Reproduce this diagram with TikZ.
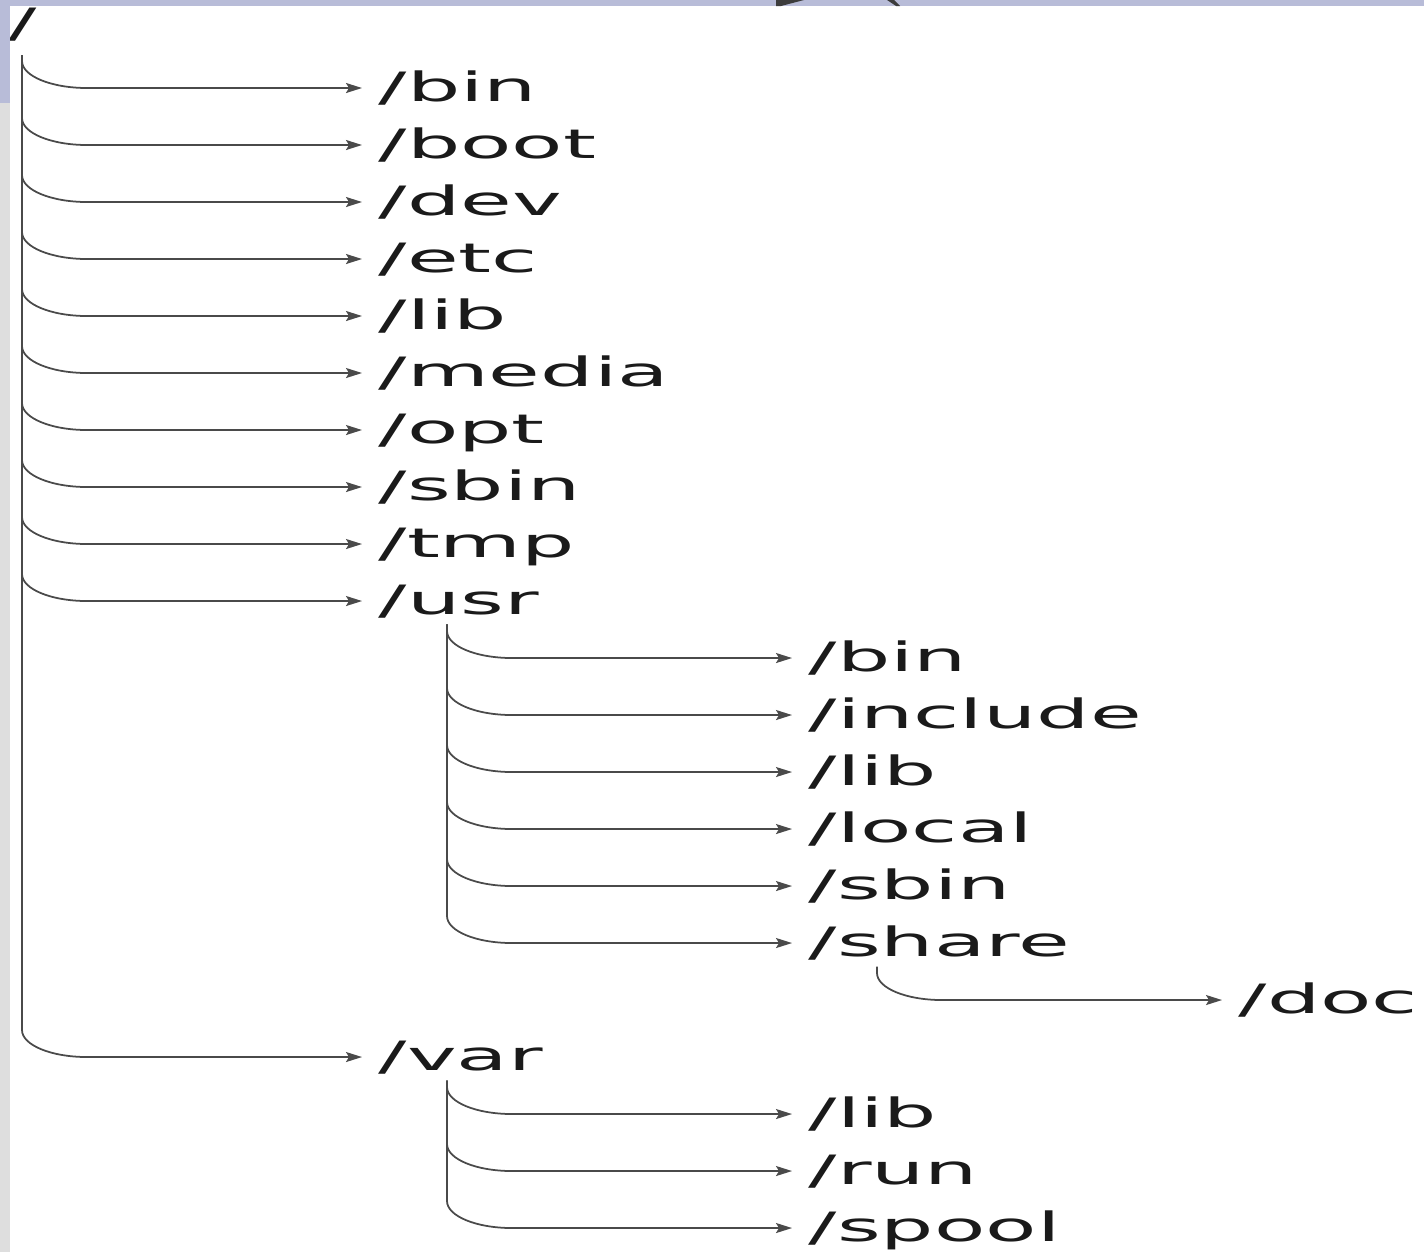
\documentclass[tikz,border=0pt]{standalone}
\usepackage{fontspec}
\newfontfamily\treefont{DejaVu Sans}[FakeStretch=2.08]
\usetikzlibrary{calc, positioning, arrows.meta}
\definecolor{bandblue}{HTML}{B8BCD8}
\definecolor{stripgray}{HTML}{DEDEDE}
\definecolor{linegray}{HTML}{4A4A4A}
\definecolor{inkdark}{HTML}{1A1A1A}

\begin{document}
\begin{tikzpicture}[dir/.style={font=\treefont\fontsize{11.5}{13}\selectfont, text=inkdark, inner xsep=0.16cm, inner ysep=0.04cm, text height=0.32cm, text depth=0.06cm},
			sib/.style={below=0.57cm of #1.west, anchor=west},
			sub/.style={below right=0.57cm and 4.30cm of #1.west, anchor=west},
			link/.style={draw=linegray, line width=0.5pt, -{Stealth[length=1.6mm,width=1.0mm,inset=0.3mm]},
				to path={(\tikztostart) -- ($(\tikztostart |- \tikztotarget)+(0,0.27)$)
					.. controls ($(\tikztostart |- \tikztotarget)+(0,0.12)$) and ($(\tikztostart |- \tikztotarget)+(0.29,0)$)
					.. ($(\tikztostart |- \tikztotarget)+(0.65,0)$) -- (\tikztotarget)}}
			]
			\useasboundingbox (0,0) rectangle (14.24,-12.52);
			\fill[white] (0,0) rectangle (14.24,-12.52);

			\node [dir, anchor=west](root) at (-0.08,-0.24) {/};
			\node [dir, anchor=west](bin) at (3.62,-0.88) {/bin};
			\node [dir, sib=bin](boot) {/boot};
			\node [dir, sib=boot](dev) {/dev};
			\node [dir, sib=dev](etc) {/etc};
			\node [dir, sib=etc](lib) {/lib};
			\node [dir, sib=lib](media) {/media};
			\node [dir, sib=media](opt) {/opt};
			\node [dir, sib=opt](sbin) {/sbin};
			\node [dir, sib=sbin](tmp) {/tmp};
			\node [dir, sib=tmp](usr) {/usr};
			\node [dir, sub=usr](ubin) {/bin};
			\node [dir, sib=ubin](uinc) {/include};
			\node [dir, sib=uinc](ulib) {/lib};
			\node [dir, sib=ulib](uloc) {/local};
			\node [dir, sib=uloc](usbin) {/sbin};
			\node [dir, sib=usbin](ushare) {/share};
			\node [dir, sub=ushare](doc) {/doc};
			\node [dir, below=4.56cm of usr.west, anchor=west](var) {/var};
			\node [dir, sub=var](vlib) {/lib};
			\node [dir, sib=vlib](vrun) {/run};
			\node [dir, sib=vrun](vspool) {/spool};

			\coordinate (froot) at (0.22,-0.55);
			\coordinate (fusr) at ($(usr.south west)+(0.85,0)$);
			\coordinate (fshare) at ($(ushare.south west)+(0.85,0)$);
			\coordinate (fvar) at ($(var.south west)+(0.85,0)$);

			\draw[link] (froot) to (bin);
			\draw[link] (froot) to (boot);
			\draw[link] (froot) to (dev);
			\draw[link] (froot) to (etc);
			\draw[link] (froot) to (lib);
			\draw[link] (froot) to (media);
			\draw[link] (froot) to (opt);
			\draw[link] (froot) to (sbin);
			\draw[link] (froot) to (tmp);
			\draw[link] (froot) to (usr);
			\draw[link] (froot) to (var);
			\draw[link] (fusr) to (ubin);
			\draw[link] (fusr) to (uinc);
			\draw[link] (fusr) to (ulib);
			\draw[link] (fusr) to (uloc);
			\draw[link] (fusr) to (usbin);
			\draw[link] (fusr) to (ushare);
			\draw[link] (fshare) to (doc);
			\draw[link] (fvar) to (vlib);
			\draw[link] (fvar) to (vrun);
			\draw[link] (fvar) to (vspool);

			% slide frame
			\fill[stripgray] (0,-1.03) rectangle (0.10,-12.52);
			\fill[bandblue] (0,0) rectangle (0.10,-1.03);
			\fill[bandblue] (0,0) rectangle (14.24,-0.06);
			\fill[inkdark!85] (7.76,0) -- (8.04,0) -- (7.81,-0.06) -- (7.76,-0.06) -- cycle;
			\fill[inkdark!85] (8.87,0) -- (8.94,0) -- (9.00,-0.06) -- (8.96,-0.06) -- cycle;
		\end{tikzpicture}
\end{document}
